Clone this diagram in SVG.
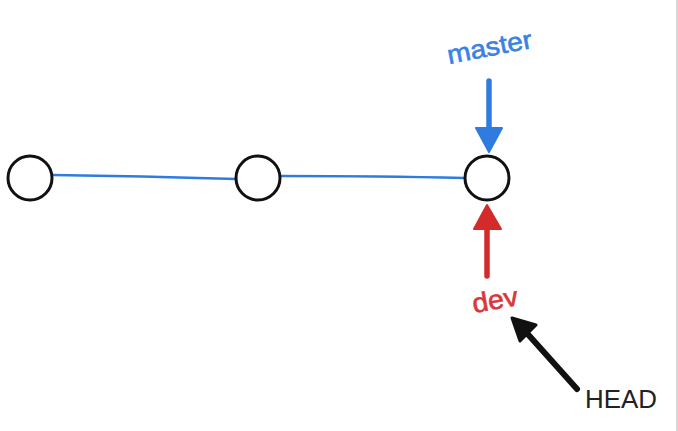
<svg xmlns="http://www.w3.org/2000/svg" width="678" height="431" viewBox="0 0 678 431">
<style>
.node{fill:#fff;stroke:#111;stroke-width:3}
.edge{fill:none;stroke:#2f7be0;stroke-width:2.5;stroke-linecap:round}
.lbl{font-family:"Liberation Sans",Arial,sans-serif}
</style>
<rect width="678" height="431" fill="#fff"/>
<line x1="677" y1="0" x2="677" y2="431" stroke="#c8c8c8" stroke-width="1.5"/>
<g id="connectors">
<path class="edge" d="M53 175 Q140 176 236 179"/>
<path class="edge" d="M281 176 Q380 176 464 178"/>
<g id="master-arrow">
<line x1="489" y1="81" x2="489" y2="132" stroke="#2f7be0" stroke-width="5.5" stroke-linecap="round"/>
<path d="M476 128 L502 128 L489 152 Z" fill="#2f7be0" stroke="#2f7be0" stroke-width="2" stroke-linejoin="round"/>
</g>
<g id="dev-arrow">
<line x1="487" y1="276" x2="487" y2="226" stroke="#d42a2a" stroke-width="5.5" stroke-linecap="round"/>
<path d="M474 229 L501 229 L487 205 Z" fill="#d42a2a" stroke="#d42a2a" stroke-width="2" stroke-linejoin="round"/>
</g>
<g id="head-arrow">
<line x1="577" y1="389" x2="525" y2="331" stroke="#111" stroke-width="6" stroke-linecap="round"/>
<path d="M512 318 L536 325 L520 341 Z" fill="#111" stroke="#111" stroke-width="3" stroke-linejoin="round"/>
</g>
</g>
<g id="c1"><circle class="node" cx="30" cy="178" r="22"/></g>
<g id="c2"><circle class="node" cx="258" cy="178" r="22"/></g>
<g id="c3"><circle class="node" cx="487" cy="178" r="22"/></g>
<g id="master"><text class="lbl" x="0" y="0" font-size="26" fill="#3a82e2" stroke="#3a82e2" stroke-width="0.6" textLength="86" lengthAdjust="spacingAndGlyphs" transform="translate(449 64) rotate(-11)">master</text></g>
<g id="dev"><text class="lbl" x="0" y="0" font-size="27" fill="#d9363a" stroke="#d9363a" stroke-width="0.6" textLength="46" lengthAdjust="spacingAndGlyphs" transform="translate(474 313) rotate(-10)">dev</text></g>
<g id="HEAD"><text class="lbl" x="585" y="408" font-size="26" fill="#222" textLength="72" lengthAdjust="spacingAndGlyphs">HEAD</text></g>
</svg>
